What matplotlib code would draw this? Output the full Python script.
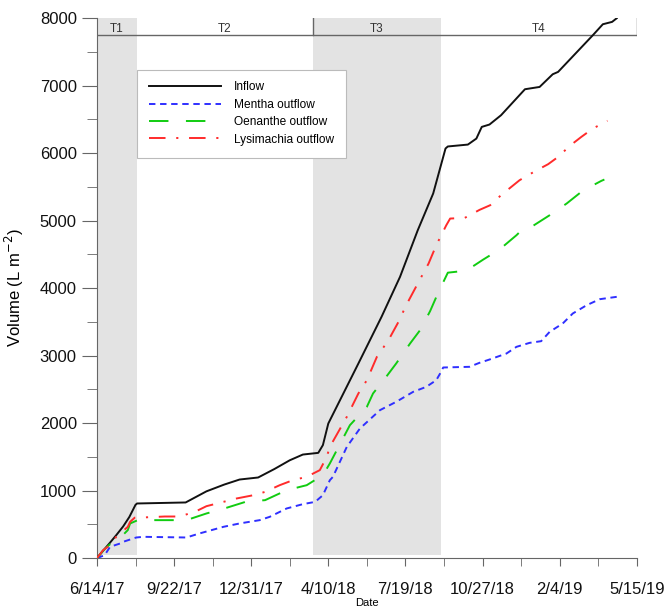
import numpy as np
import matplotlib
matplotlib.use("Agg")
import matplotlib.pyplot as plt
from matplotlib.ticker import MultipleLocator

plt.rcParams['font.family'] = ['Liberation Sans', 'DejaVu Sans']

start = np.datetime64('2017-06-14')

# cumulative volumes (L m-2), x given as days since 6/14/17
inflow_days = [0, 8, 17, 25, 34, 42, 50, 52, 115, 142, 165, 185, 209, 230, 250, 267, 287, 293,
               300, 339, 369, 393, 416, 436, 452, 455, 481, 492, 499, 509, 524, 555, 574, 591,
               598, 643, 656, 668, 674]
inflow = [0, 110, 230, 340, 470, 610, 790, 810, 825, 990, 1090, 1165, 1195, 1320, 1450, 1535, 1560, 1675,
          1995, 2884, 3575, 4168, 4859, 5403, 6070, 6100, 6128, 6217, 6390, 6425, 6563, 6948, 6982, 7170,
          7205, 7748, 7911, 7946, 8000]

mentha_days = [0, 10, 17, 30, 34, 51, 60, 116, 133, 164, 185, 211, 224, 246, 267, 283, 293, 302, 306,
               324, 341, 367, 388, 410, 427, 440, 445, 449, 483, 496, 509, 531, 544, 561, 576, 587,
               604, 617, 635, 652, 674]
mentha = [0, 44, 168, 217, 242, 306, 316, 306, 366, 464, 514, 563, 612, 736, 800, 834, 933, 1155, 1205,
          1649, 1921, 2193, 2316, 2464, 2538, 2637, 2736, 2825, 2835, 2894, 2943, 3032, 3131, 3190, 3215, 3353,
          3477, 3625, 3748, 3837, 3872]

oenanthe_days = [0, 8, 17, 30, 40, 43, 53, 116, 142, 168, 194, 218, 246, 272, 293, 302, 328, 350, 358,
                 375, 388, 406, 419, 432, 442, 455, 479, 501, 522, 544, 555, 566, 587, 609, 630, 654, 658]
oenanthe = [0, 110, 207, 300, 415, 514, 563, 563, 662, 746, 839, 859, 1007, 1081, 1230, 1403, 1970, 2242, 2440,
            2686, 2884, 3180, 3378, 3660, 3921, 4230, 4260, 4425, 4573, 4785, 4909, 4928, 5081, 5254, 5445, 5590, 5610]

lysimachia_days = [0, 8, 17, 25, 40, 43, 49, 60, 88, 107, 127, 142, 164, 181, 203, 218, 237, 254, 272,
                   289, 298, 302, 324, 339, 350, 363, 378, 391, 401, 416, 430, 440, 453, 458, 477, 496,
                   510, 524, 540, 548, 568, 585, 598, 613, 628, 643, 662]
lysimachia = [0, 118, 192, 316, 464, 538, 600, 603, 617, 617, 686, 770, 834, 884, 933, 982, 1081, 1155, 1205,
              1304, 1501, 1649, 2094, 2440, 2637, 2983, 3230, 3501, 3748, 4069, 4365, 4637, 4933, 5032, 5042, 5160,
              5230, 5378, 5526, 5600, 5733, 5837, 5945, 6108, 6241, 6365, 6480]

# treatment periods (days since start)
period_names = ['T1', 'T2', 'T3', 'T4']
period_edges = [0, 52, 280, 446, 700]
period_shaded = [True, False, True, False]

tick_labels = ['6/14/17', '9/22/17', '12/31/17', '4/10/18', '7/19/18', '10/27/18', '2/4/19', '5/15/19']


def to_dates(days):
    return start + np.array(days, dtype='timedelta64[D]')


fig = plt.figure(figsize=(6.64, 6.08), dpi=100)
ax = fig.add_axes([0.146, 0.082, 0.813, 0.888])

header_y = 7750
ymax = 8000
edges = to_dates(period_edges)
for i, name in enumerate(period_names):
    if period_shaded[i]:
        ax.fill_between([edges[i], edges[i + 1]], 45, ymax, color='#e3e3e3', lw=0, zorder=0)
    mid = edges[i] + (edges[i + 1] - edges[i]) / 2
    ax.text(mid, (header_y + ymax) / 2 - 30, name, ha='center', va='center', fontsize=8.5, color='#333333')
ax.plot([edges[0], edges[-1]], [header_y, header_y], color='#666666', lw=1, zorder=1)
for e in [edges[2], edges[-1]]:
    ax.plot([e, e], [header_y, ymax], color='#666666', lw=1, zorder=1)

ax.plot(to_dates(inflow_days), inflow, color='#111111', lw=1.4, label='Inflow', zorder=3)
ax.plot(to_dates(mentha_days), mentha, color='#2f2fff', lw=1.4, dashes=(3.3, 2.4),
        label='Mentha outflow', zorder=3)
ax.plot(to_dates(oenanthe_days), oenanthe, color='#11cc11', lw=1.4, dashes=(10, 9),
        label='Oenanthe outflow', zorder=3)
ax.plot(to_dates(lysimachia_days), lysimachia, color='#ff2b2b', lw=1.4, dashes=(8.5, 5.5, 1.1, 5.5),
        label='Lysimachia outflow', zorder=3)

ax.set_xlim(edges[0], edges[-1])
ax.set_ylim(0, ymax)

ax.set_xticks(to_dates(np.arange(0, 701, 100)))
ax.set_xticklabels(tick_labels)
ax.set_xticks(to_dates(np.arange(50, 700, 100)), minor=True)
ax.yaxis.set_major_locator(MultipleLocator(1000))
ax.yaxis.set_minor_locator(MultipleLocator(500))

for side in ['top', 'right']:
    ax.spines[side].set_visible(False)
for side in ['left', 'bottom']:
    ax.spines[side].set_color('#666666')
ax.tick_params(axis='both', which='both', colors='#666666', labelcolor='#111111', labelsize=12)
ax.tick_params(axis='x', which='major', length=6, pad=11)
ax.tick_params(axis='x', which='minor', length=6)
ax.tick_params(axis='y', which='major', length=11)
ax.tick_params(axis='y', which='minor', length=7)

ax.set_ylabel('Volume (L m$^{-2}$)', fontsize=12, labelpad=10)
ax.set_xlabel('Date', fontsize=8, labelpad=1)

leg = ax.legend(loc='upper left', bbox_to_anchor=(0.074, 0.905), fontsize=8.6, handlelength=6.0,
                frameon=True, fancybox=False, borderpad=1.0, labelspacing=0.45, handletextpad=1.1,
                borderaxespad=0)
leg.get_frame().set_edgecolor('#bbbbbb')
leg.get_frame().set_linewidth(0.8)
leg.get_frame().set_alpha(1)

fig.savefig('out.png', dpi=100)
